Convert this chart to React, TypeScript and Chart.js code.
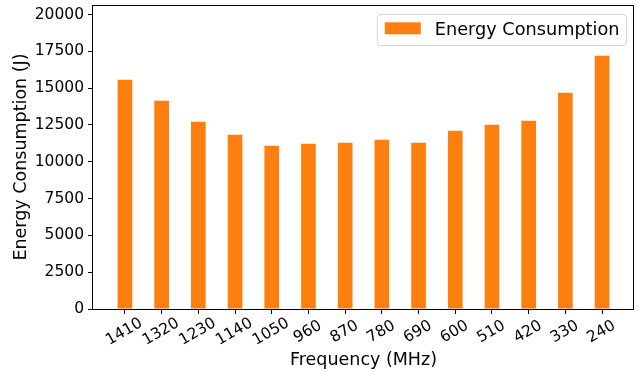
import React, { useEffect, useRef } from "react";
import { Chart, registerables } from "chart.js";

Chart.register(...registerables);

// ---- data ----
const frequencies = ["1410", "1320", "1230", "1140", "1050", "960", "870", "780", "690", "600", "510", "420", "330", "240"];
const energy = [15580, 14150, 12720, 11840, 11090, 11220, 11290, 11500, 11290, 12110, 12520, 12790, 14690, 17210];
const yTickValues = [0, 2500, 5000, 7500, 10000, 12500, 15000, 17500, 20000];
const seriesLabel = "Energy Consumption";
const xTitle = "Frequency (MHz)";
const yTitle = "Energy Consumption (J)";

const FONT = "'DejaVu Sans', sans-serif";
const ORANGE = "#ff7f0e";
const TICK_SIZE = 15.5;
const LABEL_SIZE = 17.5;
const LEGEND_SIZE = 17.7;

export default function App() {
  const ref = useRef<HTMLCanvasElement | null>(null);

  useEffect(() => {
    const canvas = ref.current;
    if (!canvas) return;
    const yMax = Math.max(...energy) * 1.2;

    const mplPlugin = {
      id: "mplExtras",
      afterDraw(chart: any) {
        const { ctx, chartArea: a } = chart;
        const xs = chart.scales.x;
        ctx.save();
        // axes frame (spines)
        ctx.strokeStyle = "#000";
        ctx.lineWidth = 1;
        ctx.strokeRect(a.left - 0.5, a.top + 0.5, a.right - a.left, a.bottom - a.top);

        // rotated x tick labels centered under ticks
        ctx.fillStyle = "#000";
        ctx.font = `${TICK_SIZE}px ${FONT}`;
        ctx.textAlign = "center";
        ctx.textBaseline = "alphabetic";
        frequencies.forEach((lab, i) => {
          const x = xs.getPixelForValue(i);
          ctx.save();
          ctx.translate(x - 1.5, a.bottom + 21.5);
          ctx.rotate(-Math.PI / 6);
          ctx.fillText(lab, 0, TICK_SIZE * 0.365);
          ctx.restore();
        });

        // legend (upper right, inside axes)
        const ds = chart.data.datasets[0];
        ctx.font = `${LEGEND_SIZE}px ${FONT}`;
        ctx.textAlign = "left";
        const tw = ctx.measureText(ds.label).width;
        const padL = 7.5, sw = 36, sh = 12, gap = 14, padR = 7;
        const bw = padL + sw + gap + tw + padR;
        const right = a.right - 7.5;
        const bx = right - bw;
        const by = a.top + 9.5;
        const bh = 31;
        ctx.beginPath();
        (ctx as any).roundRect(bx, by, bw, bh, 3.5);
        ctx.fillStyle = "rgba(255,255,255,0.8)";
        ctx.fill();
        ctx.strokeStyle = "#d6d6d6";
        ctx.lineWidth = 1;
        ctx.stroke();
        ctx.fillStyle = ds.backgroundColor;
        ctx.fillRect(bx + padL, by + 7.8, sw, sh);
        ctx.fillStyle = "#000";
        ctx.fillText(ds.label, bx + padL + sw + gap, by + 20.5);
        ctx.restore();
      },
    };

    const chart = new Chart(canvas, {
      type: "bar",
      data: {
        datasets: [
          {
            label: seriesLabel,
            data: energy.map((v, i) => ({ x: i, y: v })),
            backgroundColor: ORANGE,
            borderWidth: 0,
            categoryPercentage: 1,
            barPercentage: 0.4,
          },
        ],
      },
      options: {
        animation: false,
        responsive: true,
        maintainAspectRatio: false,
        devicePixelRatio: 1,
        events: [],
        layout: { padding: { top: 5, right: 5, bottom: 0, left: 0 }, autoPadding: false },
        plugins: {
          legend: { display: false },
          tooltip: { enabled: false },
        },
        scales: {
          x: {
            type: "linear",
            min: -0.87,
            max: 13.87,
            bounds: "data",
            offset: false,
            afterBuildTicks: (s: any) => {
              s.ticks = frequencies.map((_, i) => ({ value: i }));
            },
            afterFit: (s: any) => {
              s.height = 63;
              s.paddingLeft = 0;
              s.paddingRight = 0;
            },
            ticks: { display: false },
            grid: {
              offset: false,
              drawOnChartArea: false,
              drawTicks: true,
              tickLength: 5,
              tickColor: "#000",
              tickWidth: 1,
            },
            border: { display: false },
            title: {
              display: true,
              text: xTitle,
              color: "#000",
              font: { family: FONT, size: LABEL_SIZE },
              padding: { top: 0, bottom: 1.5 },
            },
          },
          y: {
            type: "linear",
            min: 0,
            max: yMax,
            bounds: "data",
            afterBuildTicks: (s: any) => {
              s.ticks = yTickValues.map((v) => ({ value: v }));
            },
            afterFit: (s: any) => {
              s.width = 93;
              s.paddingTop = 0;
              s.paddingBottom = 0;
            },
            ticks: {
              color: "#000",
              font: { family: FONT, size: TICK_SIZE },
              padding: 4,
              callback: (v: any) => String(v),
            },
            grid: {
              drawOnChartArea: false,
              drawTicks: true,
              tickLength: 5,
              tickColor: "#000",
              tickWidth: 1,
            },
            border: { display: false },
            title: {
              display: true,
              text: yTitle,
              color: "#000",
              font: { family: FONT, size: LABEL_SIZE },
              padding: { top: 10.9, bottom: 0 },
            },
          },
        },
      },
      plugins: [mplPlugin],
    } as any);

    return () => chart.destroy();
  }, []);

  return (
    <div style={{ position: "absolute", left: 0, top: 0, width: 639, height: 372, background: "#fff" }}>
      <canvas ref={ref} />
    </div>
  );
}
